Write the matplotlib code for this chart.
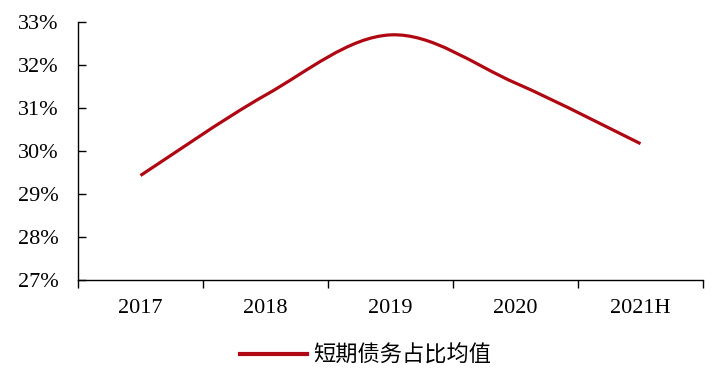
import matplotlib
matplotlib.use("Agg")
import matplotlib.pyplot as plt
from matplotlib.path import Path
from matplotlib.patches import PathPatch
from matplotlib.lines import Line2D
import numpy as np

# data
categories = ["2017", "2018", "2019", "2020", "2021H"]
values = [29.43, 31.30, 32.70, 31.58, 30.17]
series_name = "短期债务占比均值"
yticks = [27, 28, 29, 30, 31, 32, 33]

line_color = "#B00812"

plt.rcParams['font.family'] = ['Liberation Serif', 'Noto Sans CJK SC']

fig = plt.figure(figsize=(7.17, 3.87), dpi=100)
ax = fig.add_axes([0.1088, 0.2765, 0.9805 - 0.1088, 0.9432 - 0.2765])

x = np.arange(len(categories)) + 0.5
y = np.array(values)

# smoothed line, excel-like bezier through the points
verts = [(x[0], y[0])]
codes = [Path.MOVETO]
n = len(x)
for i in range(n - 1):
    p0 = np.array([x[max(i - 1, 0)], y[max(i - 1, 0)]])
    p1 = np.array([x[i], y[i]])
    p2 = np.array([x[i + 1], y[i + 1]])
    p3 = np.array([x[min(i + 2, n - 1)], y[min(i + 2, n - 1)]])
    c1 = p1 + (p2 - p0) / 6
    c2 = p2 - (p3 - p1) / 6
    verts += [tuple(c1), tuple(c2), tuple(p2)]
    codes += [Path.CURVE4] * 3
patch = PathPatch(Path(verts, codes), facecolor="none", edgecolor=line_color,
                  lw=2.3, capstyle="butt")
ax.add_patch(patch)

ax.set_xlim(0, len(categories))
ax.set_ylim(27, 33)

ax.set_yticks(yticks)
ax.set_yticklabels([f"{t}%" for t in yticks], fontsize=16)
ax.tick_params(axis="y", direction="in", length=6, width=1, pad=14)

ax.set_xticks(np.arange(len(categories) + 1))
ax.set_xticklabels([])
ax.set_xticks(x, minor=True)
ax.set_xticklabels(categories, minor=True, fontsize=16)
ax.tick_params(axis="x", which="major", direction="out", length=6, width=1)
ax.tick_params(axis="x", which="minor", length=0, pad=14)

for s in ["top", "right"]:
    ax.spines[s].set_visible(False)
for s in ["left", "bottom"]:
    ax.spines[s].set_linewidth(1)
    ax.spines[s].set_color("black")

handle = Line2D([], [], color=line_color, lw=3)
fig.legend([handle], [series_name], loc="center", bbox_to_anchor=(0.51, 0.083),
           frameon=False, handlelength=3.0, handletextpad=0.3,
           prop={'family': ['Noto Sans CJK SC'], 'size': 16})

fig.savefig("out.png", dpi=100)
